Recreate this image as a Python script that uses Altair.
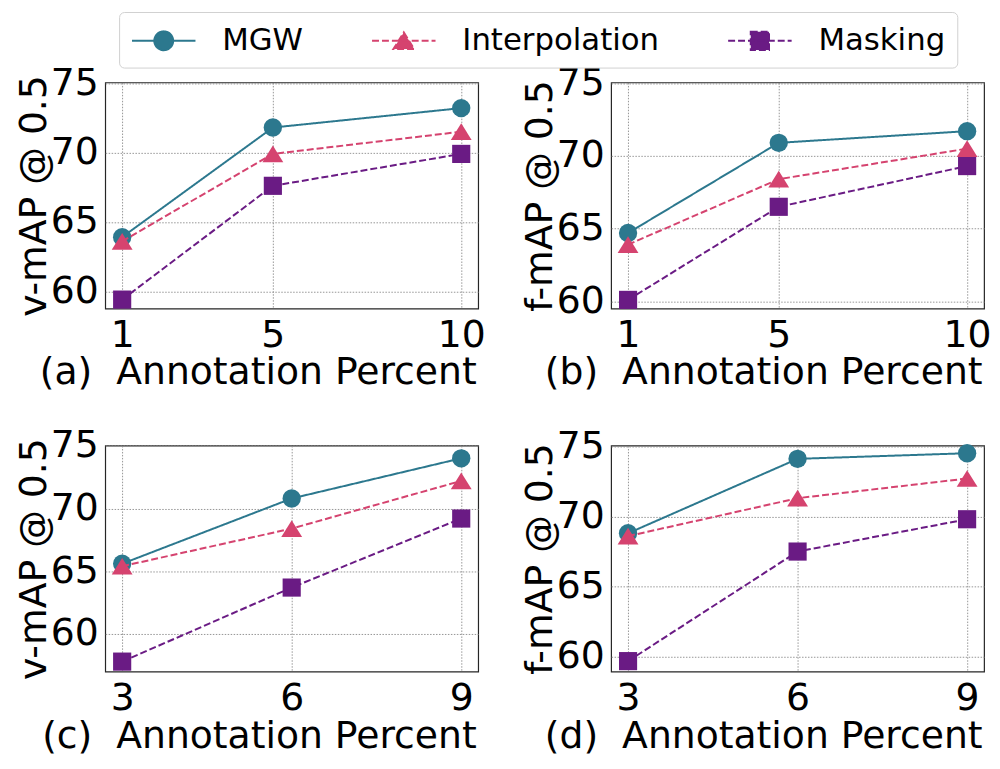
import altair as alt
import pandas as pd

series = ["MGW", "Interpolation", "Masking"]
colors = ["#2c788e", "#d5436f", "#6a1b84"]

x_ab = [1, 5, 10]
x_cd = [3, 6, 9]

a_mgw = [63.9, 71.8, 73.2]
a_interp = [63.6, 69.9, 71.5]
a_mask = [59.4, 67.6, 69.9]

b_mgw = [64.7, 70.9, 71.7]
b_interp = [63.9, 68.4, 70.5]
b_mask = [60.1, 66.5, 69.3]

c_mgw = [65.6, 70.8, 74.0]
c_interp = [65.4, 68.4, 72.2]
c_mask = [57.8, 63.7, 69.2]

d_mgw = [68.8, 74.1, 74.5]
d_interp = [68.6, 71.3, 72.7]
d_mask = [59.7, 67.5, 69.8]

FONT = "DejaVu Sans"
W, H = 376, 228

# marker shapes for the plot (matplotlib-like, bbox centred)
shape_plot = ["circle", "M0,-0.8L1,0.8L-1,0.8Z", "square"]
size_plot = [342, 441, 335]
dash_plot = [[1, 0], [7, 3], [7, 3]]

# legend glyphs: a line with the marker on it
legend_paths = [
    "M-1,0H3M0.406,0A0.594,0.594,0,1,0,1.594,0A0.594,0.594,0,1,0,0.406,0Z",
    "M-1,0H3M1,-0.525L1.656,0.525L0.344,0.525Z",
    "M-1,0H3M0.425,-0.575H1.575V0.575H0.425Z",
]


def make_df(xs, ys_list):
    rows = []
    for s, ys in zip(series, ys_list):
        for x, y in zip(xs, ys):
            rows.append({"x": x, "y": y, "series": s})
    return pd.DataFrame(rows)


def panel(df, xticks, xdom, ydom, xtitle, ytitle, legend=False):
    base = alt.Chart(df)
    xenc = alt.X(
        "x:Q",
        scale=alt.Scale(domain=xdom, nice=False, zero=False),
        axis=alt.Axis(values=xticks, title=xtitle, labelFlush=False,
                      labelOverlap=False, labelPadding=8,
                      titleX=374, titleY=46, titleAlign="right",
                      titleBaseline="top"),
    )
    yenc = alt.Y(
        "y:Q",
        scale=alt.Scale(domain=ydom, nice=False, zero=False),
        axis=alt.Axis(values=[60, 65, 70, 75], title=ytitle, labelPadding=7,
                      titlePadding=-3),
    )
    layers = []
    for i, s in enumerate(series):
        sub = base.transform_filter(alt.datum.series == s)
        layers.append(
            sub.mark_line(color=colors[i], strokeWidth=2, strokeDash=dash_plot[i],
                          clip=False).encode(x=xenc, y=yenc)
        )
        layers.append(
            sub.mark_point(filled=True, opacity=1, color=colors[i],
                           shape=shape_plot[i], size=size_plot[i],
                           clip=False).encode(x=xenc, y=yenc)
        )
    if legend:
        lg = alt.Legend(
            title=None, orient="none", legendX=14, legendY=-71,
            direction="horizontal", columns=3, symbolSize=1024,
            symbolStrokeWidth=2, labelOffset=58, columnPadding=65,
            labelFont=FONT, labelFontSize=31, labelColor="black", labelLimit=500,
            padding=12, strokeColor="#d0d0d0", cornerRadius=5,
            fillColor="white", symbolOpacity=1,
        )
        sc_fill = alt.Scale(domain=series, range=colors)
        leg = base.transform_filter("false").mark_point(
            filled=True, strokeWidth=2, size=1024, opacity=1
        ).encode(
            fill=alt.Fill("series:N", scale=sc_fill, legend=lg),
            stroke=alt.Stroke("series:N", scale=sc_fill, legend=lg),
            shape=alt.Shape("series:N", scale=alt.Scale(domain=series, range=legend_paths), legend=lg),
            strokeDash=alt.StrokeDash("series:N", scale=alt.Scale(domain=series, range=dash_plot), legend=lg),
        )
        layers.append(leg)
    return alt.layer(*layers).properties(width=W, height=H)


pa = panel(make_df(x_ab, [a_mgw, a_interp, a_mask]), x_ab, [0.55, 10.45], [58.75, 75.05],
           "(a)\u00a0 Annotation Percent", "v-mAP @ 0.5", legend=True)
pb = panel(make_df(x_ab, [b_mgw, b_interp, b_mask]), x_ab, [0.55, 10.45], [59.5, 75.05],
           "(b)\u00a0 Annotation Percent", "f-mAP @ 0.5")
pc = panel(make_df(x_cd, [c_mgw, c_interp, c_mask]), x_cd, [2.7, 9.3], [57.0, 75.02],
           "(c)\u00a0 Annotation Percent", "v-mAP @ 0.5")
pd_ = panel(make_df(x_cd, [d_mgw, d_interp, d_mask]), x_cd, [2.7, 9.3], [58.95, 75.05],
            "(d)\u00a0 Annotation Percent", "f-mAP @ 0.5")

chart = alt.concat(pa, pb, pc, pd_, columns=2, spacing={"row": 138, "column": 134},
                   bounds="flush").properties(
    padding={"left": 7, "top": 0, "right": 0, "bottom": 0}
).configure_axis(
    labelFont=FONT, titleFont=FONT, labelFontSize=38, titleFontSize=38,
    titleFontWeight="normal", labelColor="black", titleColor="black",
    tickSize=0, domain=False,
    grid=True, gridColor="#8a8a8a", gridDash=[1.5, 1.5], gridWidth=0.9,
).configure_view(stroke="#262626", strokeWidth=1.2).configure_legend(
    labelFont=FONT
)

chart.save("out.html", embed_options={"renderer": "svg", "actions": False})
